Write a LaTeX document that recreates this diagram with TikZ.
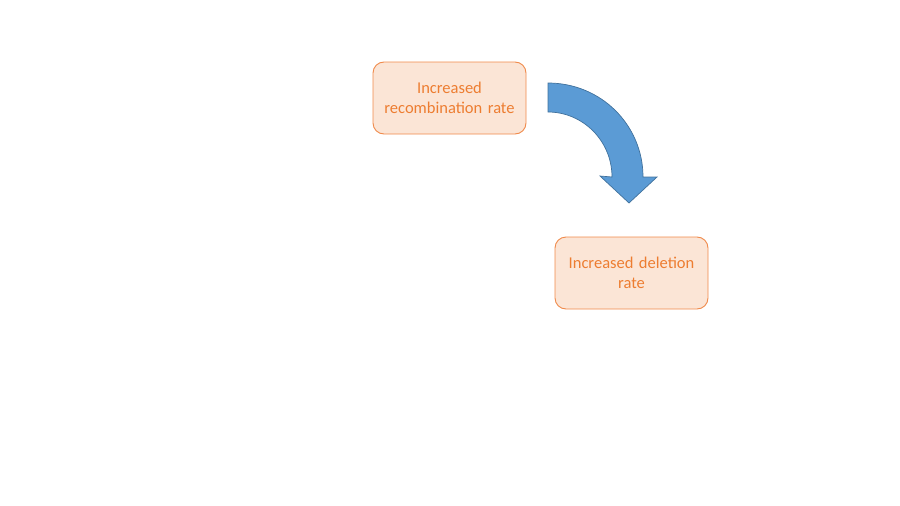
\documentclass[tikz,border=0pt]{standalone}
\usepackage{fontspec}
\setmainfont{Carlito}
\definecolor{boxfill}{HTML}{FBE5D6}
\definecolor{boxline}{HTML}{F08A4B}
\definecolor{boxtext}{HTML}{ED7D31}
\definecolor{arrfill}{HTML}{5B9BD5}
\definecolor{arrline}{HTML}{41719C}
\begin{document}
\begin{tikzpicture}[x=1pt,y=-1pt,
  factbox/.style={draw=boxline, fill=boxfill, rounded corners=11pt, line width=0.9pt,
    minimum width=153pt, minimum height=72pt, text width=145pt, align=center,
    text=boxtext, font=\fontsize{16.5}{20}\selectfont, inner sep=0pt}]
\useasboundingbox (0,0) rectangle (900,506);
\node[factbox] (rec) at (449.5,98) {\raisebox{-1pt}{\parbox{145pt}{\centering Increased\\recombination rate}}};
\node[factbox] (del) at (631.5,273) {\raisebox{-1pt}{\parbox{145pt}{\centering Increased deletion\\rate}}};
\coordinate (a1) at (548,83);
\coordinate (a2) at (548,112);
\draw[draw=arrline, fill=arrfill, line width=0.7pt]
  (a1) .. controls (601,83) and (643,125) .. (643,177)
  -- (657,177) -- (629,203) -- (600,176) -- (612,177)
  .. controls (612,141) and (583,112) .. (a2)
  -- cycle;
\end{tikzpicture}
\end{document}
